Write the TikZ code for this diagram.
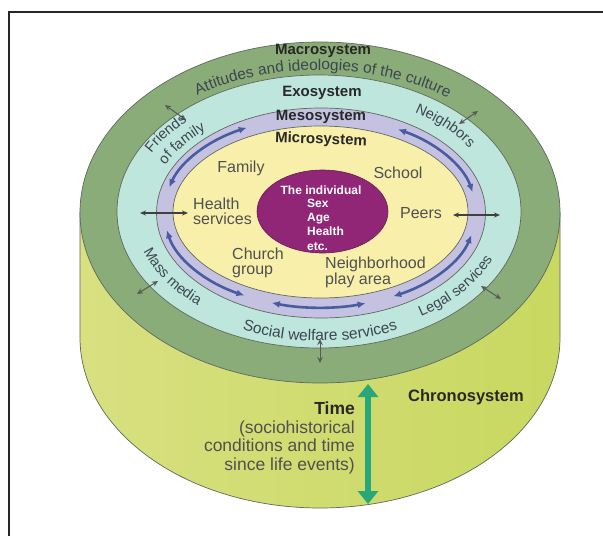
\documentclass[tikz,border=0pt]{standalone}
\usepackage{fontspec}
\setmainfont{Liberation Sans}
\usetikzlibrary{arrows.meta,decorations.text}
\definecolor{ringgreen}{RGB}{138,172,120}
\definecolor{exocyan}{RGB}{190,230,221}
\definecolor{mesolav}{RGB}{197,193,225}
\definecolor{microyel}{RGB}{248,240,170}
\definecolor{indpurple}{RGB}{146,38,118}
\definecolor{cylL}{RGB}{216,224,128}
\definecolor{cylM}{RGB}{238,240,190}
\definecolor{cylR}{RGB}{200,216,96}
\definecolor{edgegray}{RGB}{95,105,95}
\definecolor{mesoblue}{RGB}{72,92,160}
\definecolor{timegreen}{RGB}{40,168,122}
\definecolor{labgray}{RGB}{80,80,80}
\definecolor{bandtxt}{RGB}{60,70,80}
\definecolor{headtxt}{RGB}{40,40,40}
\newcommand\fsz[1]{\fontsize{#1}{#1}\selectfont}
\begin{document}
\begin{tikzpicture}[x=1pt,y=1pt,
  ring/.style={draw=edgegray, line width=0.7pt},
  mesoarrow/.style={draw=mesoblue, line width=2.6pt, {Latex[length=8pt,width=7pt]}-{Latex[length=8pt,width=7pt]}},
  crossarrow/.style={draw=black!75, line width=1.2pt, {Stealth[length=6pt,width=5pt]}-{Stealth[length=6pt,width=5pt]}},
  hollowarrow/.style={draw=black!65, line width=1pt, {Stealth[open,length=6pt,width=5.5pt]}-{Stealth[open,length=6pt,width=5.5pt]}},
  timearrow/.style={draw=timegreen, line width=6pt, {Triangle[length=13pt,width=20pt]}-{Triangle[length=13pt,width=20pt]}},
  microlbl/.style={text=labgray, font={\fsz{16}}, inner sep=0pt},
  headlbl/.style={text=headtxt, font={\bfseries\fsz{15}}, inner sep=0pt},
  indlbl/.style={text=white, font={\bfseries\fsz{12}}, inner sep=0pt},
]
\useasboundingbox (0,0) rectangle (603,-536);
\fill[white] (0,0) rectangle (603,-536);
% frame
\draw[line width=2pt, black!85] (9,-536) -- (9,-12) -- (603,-12);

% cylinder side
\shadedraw[left color=cylL, middle color=cylM, right color=cylR, draw=edgegray, line width=0.7pt]
  (80,-212.5) -- (80,-337.5) arc[start angle=180, end angle=360, x radius=240, y radius=170.5] -- (560,-212.5) -- cycle;

% rings
\filldraw[ring, fill=ringgreen] (320,-212.5) ellipse [x radius=240, y radius=170.5];
\filldraw[ring, fill=exocyan] (319,-211.5) ellipse [x radius=202, y radius=136.5];
\filldraw[ring, fill=mesolav] (321,-213) ellipse [x radius=164.5, y radius=105];
\filldraw[ring, fill=microyel] (320.5,-212) ellipse [x radius=147.5, y radius=86];
\filldraw[draw=indpurple!70!black, line width=0.6pt, fill=indpurple] (322.5,-211.5) ellipse [x radius=65.5, y radius=41.5];

% mesosystem arrows
\draw[mesoarrow] (320,-212) ++(165:156 and 95.5) arc[start angle=165, end angle=118, x radius=156, y radius=95.5];
\draw[mesoarrow] (320,-212) ++(60:156 and 95.5) arc[start angle=60, end angle=12, x radius=156, y radius=95.5];
\draw[mesoarrow] (320,-212) ++(191:156 and 95.5) arc[start angle=191, end angle=241, x radius=156, y radius=95.5];
\draw[mesoarrow] (320,-212) ++(252:156 and 95.5) arc[start angle=252, end angle=287, x radius=156, y radius=95.5];
\draw[mesoarrow] (320,-212) ++(298:156 and 95.5) arc[start angle=298, end angle=346, x radius=156, y radius=95.5];

% crossing arrows
\coordinate (hl1) at (140,-213); \coordinate (hl2) at (188,-213);
\coordinate (pr1) at (453,-215); \coordinate (pr2) at (500,-215);
\draw[crossarrow] (hl1) -- (hl2);
\draw[crossarrow] (pr1) -- (pr2);
\coordinate (ul1) at (165,-105); \coordinate (ul2) at (186,-120);
\coordinate (ur1) at (478,-111); \coordinate (ur2) at (459,-124);
\coordinate (ll1) at (137,-294); \coordinate (ll2) at (158,-281);
\coordinate (lr1) at (501,-299); \coordinate (lr2) at (481,-286);
\coordinate (bt1) at (320,-339); \coordinate (bt2) at (320,-363);
\draw[hollowarrow] (ul1) -- (ul2);
\draw[hollowarrow] (ur1) -- (ur2);
\draw[hollowarrow] (ll1) -- (ll2);
\draw[hollowarrow] (lr1) -- (lr2);
\draw[hollowarrow] (bt1) -- (bt2);

% time arrow
\coordinate (tTop) at (368,-384);
\coordinate (tBot) at (368,-504);
\draw[timearrow] (tTop) -- (tBot);

% curved band texts
\path[decorate, decoration={text along path, text align=center,
  text={|\fsz{15.5}\color{bandtxt}|Attitudes and ideologies of the culture}}]
  (320,-212) ++(142:216 and 142) arc[start angle=142, end angle=36, x radius=216, y radius=142];
\path[decorate, decoration={text along path, text align=center,
  text={|\fsz{15.5}\color{bandtxt}|Social welfare services}}]
  (320,-212) ++(225:190 and 129) arc[start angle=225, end angle=315, x radius=190, y radius=129];
\path[decorate, decoration={text along path, text align=center,
  text={|\fsz{14.5}\color{bandtxt}|Neighbors}}]
  (320,-212) ++(73:178 and 118) arc[start angle=73, end angle=13, x radius=178, y radius=118];
\path[decorate, decoration={text along path, text align=center,
  text={|\fsz{14.5}\color{bandtxt}|Friends}}]
  (320,-212) ++(176:190 and 127) arc[start angle=176, end angle=116, x radius=190, y radius=127];
\path[decorate, decoration={text along path, text align=center,
  text={|\fsz{14.5}\color{bandtxt}|of family}}]
  (320,-212) ++(176:171 and 110) arc[start angle=176, end angle=116, x radius=171, y radius=110];
\path[decorate, decoration={text along path, text align=center,
  text={|\fsz{14.5}\color{bandtxt}|Mass media}}]
  (320,-212) ++(181:186 and 124) arc[start angle=181, end angle=242, x radius=186, y radius=124];
\path[decorate, decoration={text along path, text align=center,
  text={|\fsz{14.5}\color{bandtxt}|Legal services}}]
  (320,-212) ++(292:187 and 124) arc[start angle=292, end angle=352, x radius=187, y radius=124];

% headings
\node[headlbl] (macro) at (323,-51) {Macrosystem};
\node[headlbl] (exo) at (322,-93) {Exosystem};
\node[headlbl] (meso) at (321,-117) {Mesosystem};
\node[headlbl, rotate=-2] (micro) at (321,-140) {Microsystem};

% microsystem labels
\node[microlbl] (family) at (241,-168) {Family};
\node[microlbl] (school) at (398,-173) {School};
\node[microlbl, anchor=west, align=left, font={\fsz{16}\baselineskip=15pt}] (health) at (193,-211) {Health\\services};
\node[microlbl] (peers) at (421,-213) {Peers};
\node[microlbl, anchor=west, align=left, font={\fsz{16}\baselineskip=15pt}] (church) at (232,-262.5) {Church\\group};
\node[microlbl, anchor=west, align=left, font={\fsz{16}\baselineskip=14.5pt}] (neigh) at (325,-272) {Neighborhood\\play area};

% individual
\node[indlbl] (indiv) at (321,-190) {The individual};
\node[indlbl, anchor=west, align=left, font={\bfseries\fsz{12}\baselineskip=14.3pt}] (attrs) at (307,-224.5) {Sex\\Age\\Health\\etc.};

% chronosystem
\node[text=headtxt, font={\bfseries\fsz{16.5}}, inner sep=0pt] (chrono) at (466,-397) {Chronosystem};
\node[text=labgray, anchor=east, align=right, inner sep=0pt, font={\fsz{17.5}\baselineskip=18.6pt}] (time) at (355,-438)
  {{\bfseries\color{headtxt}Time}\\(sociohistorical\\conditions and time\\since life events)};
\end{tikzpicture}
\end{document}
